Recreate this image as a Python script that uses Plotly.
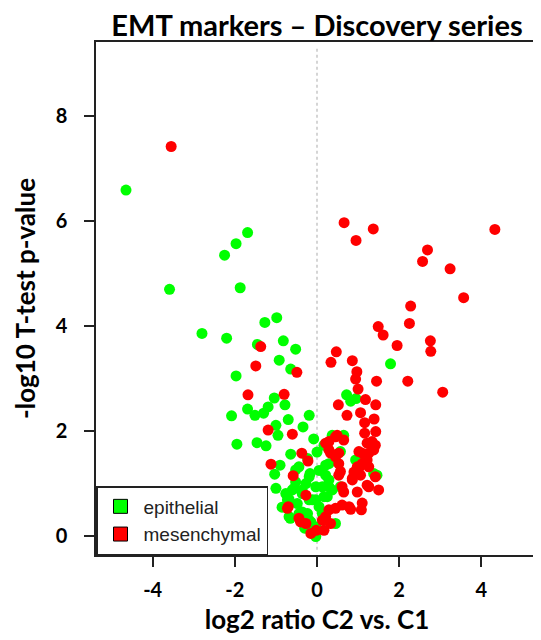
import plotly.graph_objects as go

# epithelial markers (green)
epi_x = [-4.65, -1.69, -1.97, -2.25, -3.59, -1.87, -1.27, -0.98, -2.80, -2.20,
         -1.45, -0.82, -0.52, -0.92, -0.64, -1.97, -1.04, -0.78, -1.19, -1.69,
         -1.51, -1.30, -2.08, -0.19, -0.70, -1.00, -0.95, -0.34, -1.95, -1.46,
         -1.24, -0.23, -0.64, -0.90, -1.03, -0.17, -1.00, -0.52, -0.68, -0.48,
         -0.65, -0.23, -0.03, 1.79, 0.72, 0.95, 0.82, 0.37, 0.65, 0.94,
         1.38, -0.52, -0.07, -0.68, -0.44, -0.19, -0.03, 0.05, 0.25, 0.29,
         0.21, 0.29, -0.03, -0.27, -0.56, -0.76, -0.72, -0.19, -0.03, 0.13,
         0.45, 0.57, 0.17, 0.21, 0.29, 0.17, -0.11, -0.36, -0.60, -0.36,
         -0.15, -0.11, 0.57, -0.44, -0.19, -0.36, 0.13, 0.37, 1.46, 0.00,
         -0.08, 0.05, -0.30, -0.85]
epi_y = [6.59, 5.78, 5.57, 5.35, 4.70, 4.73, 4.07, 4.16, 3.86, 3.77,
         3.65, 3.72, 3.56, 3.35, 3.18, 3.05, 2.63, 2.50, 2.46, 2.42,
         2.30, 2.34, 2.29, 2.30, 2.22, 2.11, 1.92, 2.08, 1.75, 1.78,
         1.72, 1.48, 1.56, 1.35, 1.18, 1.19, 0.91, 1.03, 0.70, 0.62,
         0.34, 0.43, -0.01, 3.28, 2.69, 2.62, 2.57, 1.92, 1.92, 1.45,
         1.19, 1.26, 0.05, 0.37, 0.43, 0.30, 0.18, 0.56, 0.75, 0.94,
         1.16, 1.38, 0.94, 1.00, 0.91, 0.81, 0.69, 0.69, 0.69, 0.43,
         0.24, 0.94, 1.73, 1.35, 1.07, 0.75, 0.69, 0.81, 0.88, 0.46,
         0.27, 0.11, 1.61, 1.32, 1.13, 0.88, 0.94, 0.88, 1.16, 1.60,
         1.85, 1.25, 0.15, 0.55]

# mesenchymal markers (red)
mes_x = [-3.55, 0.66, 0.95, 1.37, 4.33, 2.69, 2.57, 3.24, 3.57, 2.28,
         2.25, 1.49, 1.61, 1.95, 2.76, 2.77, 0.47, 0.34, 0.86, 0.97,
         0.94, 1.45, 2.21, 3.06, 1.00, 1.18, 0.52, 1.43, 0.73, 1.06,
         1.16, 1.39, 1.16, 1.43, -0.49, -1.37, -1.49, -1.68, -0.80, -1.19,
         -0.60, -0.37, -0.22, -1.12, -0.58, -0.27, -0.70, -0.40, -0.15, 1.22,
         1.42, 0.29, 0.65, 0.49, 0.29, 0.53, 1.10, 1.26, 1.10, 1.26,
         0.53, 1.06, 1.42, 1.22, 0.86, 0.65, 0.98, 1.10, 1.08, 0.82,
         0.61, 0.29, 0.45, 0.21, 0.17, 0.33, -0.02, -0.27, -0.72, -0.44,
         0.45, 0.57, 0.33, 0.78, 0.13, 1.18, 1.02, 1.34, 1.38, 1.02,
         1.22, 0.98, 0.90, 0.21, 0.45, 0.53, 0.61, 1.26, 1.50, 0.86]
mes_y = [7.42, 5.97, 5.63, 5.85, 5.84, 5.45, 5.23, 5.09, 4.54, 4.38,
         4.05, 3.99, 3.83, 3.63, 3.72, 3.52, 3.51, 3.31, 3.34, 3.13,
         2.99, 2.95, 2.95, 2.74, 2.80, 2.60, 2.50, 2.50, 2.30, 2.35,
         2.16, 2.23, 1.96, 1.99, 3.12, 3.61, 3.24, 2.69, 2.70, 2.02,
         1.94, 1.58, 1.43, 1.37, 1.15, 0.78, 0.56, 0.27, 0.05, 1.77,
         1.73, 1.80, 1.83, 1.92, 1.64, 1.58, 1.58, 1.58, 1.38, 1.32,
         1.38, 1.16, 1.13, 0.97, 1.07, 0.84, 0.84, 0.63, 0.50, 0.51,
         0.59, 0.50, 0.53, 0.37, 0.11, 0.24, 0.11, 0.24, 0.53, 0.34,
         1.89, 1.23, 1.58, 0.56, 0.30, 1.51, 1.29, 1.80, 1.64, 1.61,
         1.45, 1.32, 1.22, 1.77, 1.51, 1.16, 0.94, 0.94, 0.88, 1.10]

x_ticks = [-4, -2, 0, 2, 4]
y_ticks = [0, 2, 4, 6, 8]
series_names = ["epithelial", "mesenchymal"]
series_colors = ["#00ff00", "#ff0000"]

title_font = dict(family="Lato", size=29, color="black", weight="bold")
axis_title_font = dict(family="Lato", size=26, color="black", weight="bold")
tick_font = dict(family="Lato", size=20, color="black", weight="bold")

fig = go.Figure()
fig.add_trace(go.Scatter(x=epi_x, y=epi_y, mode="markers", showlegend=False,
                         marker=dict(color=series_colors[0], size=11, line=dict(width=0)),
                         hoverinfo="skip"))
fig.add_trace(go.Scatter(x=mes_x, y=mes_y, mode="markers", showlegend=False,
                         marker=dict(color=series_colors[1], size=11, line=dict(width=0)),
                         hoverinfo="skip"))
for name, col in zip(series_names, series_colors):
    fig.add_trace(go.Scatter(x=[None], y=[None], mode="markers", name=name,
                             marker=dict(symbol="square", color=col, size=14,
                                         line=dict(color="black", width=1))))

fig.add_shape(type="line", xref="x", yref="paper", x0=0, x1=0, y0=0.01, y1=0.99,
              line=dict(color="#c8c8c8", width=1.5, dash="dot"), layer="below")

# the page adds an 8px body margin, so the figure is sized/offset to compensate
fig.update_layout(
    width=533, height=632,
    margin=dict(l=88, r=1, t=34, b=85),
    paper_bgcolor="white", plot_bgcolor="white",
    title=dict(text="EMT markers \u2013 Discovery series", font=title_font,
               x=0.5, xref="paper", xanchor="center", y=0.9715, yanchor="middle"),
    legend=dict(x=0, y=0, xanchor="left", yanchor="bottom", bgcolor="white",
                bordercolor="#222", borderwidth=1.5,
                font=dict(family="Liberation Sans", size=19, color="#222"),
                itemwidth=36, entrywidth=150, entrywidthmode="pixels",
                tracegroupgap=0),
    xaxis=dict(range=[-5.38, 5.38], tickvals=x_ticks, ticktext=[str(v) for v in x_ticks],
               showgrid=False, zeroline=False, showline=True, mirror=True,
               linecolor="#222", linewidth=1.5, ticks="outside", ticklen=10,
               tickcolor="#222", tickwidth=1.5, tickfont=tick_font, ticklabelstandoff=6,
               title=dict(text="log2 ratio C2 vs. C1", font=axis_title_font, standoff=11)),
    yaxis=dict(range=[-0.36, 9.41], tickvals=y_ticks, ticktext=[str(v) for v in y_ticks],
               showgrid=False, zeroline=False, showline=True, mirror=True,
               linecolor="#222", linewidth=1.5, ticks="outside", ticklen=10,
               tickcolor="#222", tickwidth=1.5, tickfont=tick_font, ticklabelstandoff=13,
               title=dict(text="-log10 T-test p-value", font=axis_title_font, standoff=13)),
)

fig.write_html("out.html")
